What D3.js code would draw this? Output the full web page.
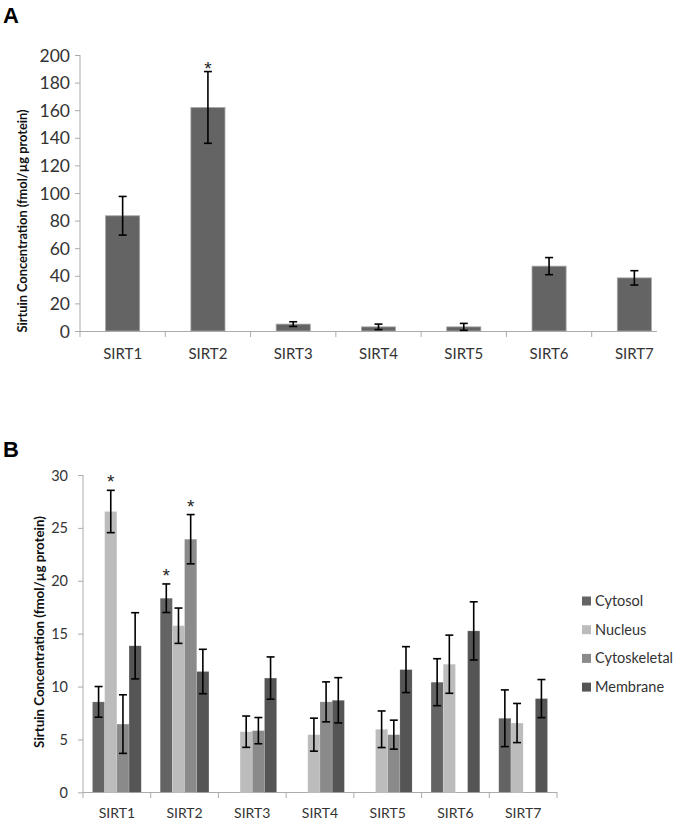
<!DOCTYPE html>
<html><head><meta charset="utf-8">
<script src="https://cdn.jsdelivr.net/npm/d3@7/dist/d3.min.js"></script>
<style>
body{margin:0;background:#fff;}
svg{display:block;font-family:Lato,"Open Sans",sans-serif;}
</style></head>
<body><svg id="c" width="675" height="820"></svg>
<script>
// ---- Data ----
const categories = ["SIRT1","SIRT2","SIRT3","SIRT4","SIRT5","SIRT6","SIRT7"];
// Panel A: total
const totalValues = [83.5, 162, 5, 3, 3, 47, 38.5];
const totalErrors = [14, 26, 1.7, 2, 2.5, 6.2, 5.2];
const totalStars = [false, true, false, false, false, false, false];
const ticksA = [0,20,40,60,80,100,120,140,160,180,200];
// Panel B: fractions
const series = ["Cytosol","Nucleus","Cytoskeletal","Membrane"];
const cytosolValues      = [8.55, 18.35, null, null, null, 10.41, 7.0];
const cytosolErrors      = [1.45, 1.35, null, null, null, 2.22, 2.68];
const nucleusValues      = [26.55, 15.75, 5.73, 5.45, 5.96, 12.11, 6.55];
const nucleusErrors      = [2.0, 1.67, 1.48, 1.56, 1.73, 2.75, 1.85];
const cytoskeletalValues = [6.45, 23.93, 5.83, 8.55, 5.45, null, null];
const cytoskeletalErrors = [2.77, 2.33, 1.24, 1.89, 1.37, null, null];
const membraneValues     = [13.85, 11.42, 10.8, 8.7, 11.6, 15.26, 8.86];
const membraneErrors     = [3.13, 2.1, 2.0, 2.14, 2.17, 2.75, 1.8];
// significance markers [series, category]
const starsB = [["Nucleus","SIRT1"],["Cytosol","SIRT2"],["Cytoskeletal","SIRT2"]];
const ticksB = [0,5,10,15,20,25,30];
const seriesColors = ["#646464","#bcbcbc","#8a8a8a","#555555"];

const svg = d3.select("#c");
const textCol = "#333333", axisCol = "#ababab";

// ================= Panel A =================
(function(){
  const x = d3.scaleBand().domain(categories).range([80, 677]).paddingInner(0.6).paddingOuter(0.3);
  const y = d3.scaleLinear().domain([0,200]).range([331,55]);
  const g = svg.append("g");
  g.append("text").attr("x",3).attr("y",23).text("A")
    .attr("font-family","Arial, 'Liberation Sans', sans-serif").attr("font-weight","bold").attr("font-size",22).attr("fill","#000");
  const ya = g.append("g").attr("transform","translate(80,0)")
    .call(d3.axisLeft(y).tickValues(ticksA).tickSize(5).tickPadding(5));
  ya.select(".domain").attr("stroke",axisCol).attr("d","M0,55V331");
  ya.selectAll(".tick line").attr("stroke",axisCol);
  ya.selectAll(".tick text").attr("fill",textCol).attr("font-size",17.5).attr("font-family","Lato,sans-serif").attr("dy","0.35em");
  const step = x.step();
  const x0 = 80;
  g.append("line").attr("x1",80).attr("x2",657).attr("y1",331.5).attr("y2",331.5).attr("stroke",axisCol);
  d3.range(categories.length).forEach(i=>{
    const tx = x0 + i*step;
    if (tx <= 657) g.append("line").attr("x1",tx).attr("x2",tx).attr("y1",331).attr("y2",337).attr("stroke",axisCol);
  });
  g.selectAll("text.cat").data(categories).join("text").attr("class","cat")
    .attr("x",d=>x(d)+x.bandwidth()/2).attr("y",359).attr("text-anchor","middle")
    .attr("font-size",15).attr("fill",textCol).text(d=>d);
  g.selectAll("rect.bar").data(categories).join("rect").attr("class","bar")
    .attr("x",d=>x(d)).attr("width",x.bandwidth())
    .attr("y",(d,i)=>y(totalValues[i])).attr("height",(d,i)=>y(0)-y(totalValues[i]))
    .attr("fill","#646464").attr("stroke","#a8a8a8").attr("stroke-width",0.8);
  categories.forEach((c,i)=>{
    const cx = x(c)+x.bandwidth()/2, hi=y(totalValues[i]+totalErrors[i]), lo=y(totalValues[i]-totalErrors[i]);
    const e = g.append("g").attr("stroke","#000").attr("stroke-width",1.6);
    e.append("line").attr("x1",cx).attr("x2",cx).attr("y1",hi).attr("y2",lo);
    e.append("line").attr("x1",cx-4).attr("x2",cx+4).attr("y1",hi).attr("y2",hi);
    e.append("line").attr("x1",cx-4).attr("x2",cx+4).attr("y1",lo).attr("y2",lo);
    if (totalStars[i]) g.append("text").attr("x",cx).attr("y",hi+3).attr("text-anchor","middle")
      .attr("font-size",19).attr("font-family","Arial,sans-serif").attr("fill","#222").text("*");
  });
  g.append("text").attr("transform","translate(27,221) rotate(-90)").attr("text-anchor","middle")
    .attr("font-size",12.8).attr("font-weight","bold").attr("fill","#111")
    .text("Sirtuin Concentration (fmol/µg protein)");
})();

// ================= Panel B =================
(function(){
  const vals = [cytosolValues, nucleusValues, cytoskeletalValues, membraneValues];
  const errs = [cytosolErrors, nucleusErrors, cytoskeletalErrors, membraneErrors];
  const x = d3.scaleBand().domain(categories).range([83, 557]).paddingInner(0.28).paddingOuter(0.14);
  const x1 = d3.scaleBand().domain(series).range([0, x.bandwidth()]);
  const y = d3.scaleLinear().domain([0,30]).range([792.3,475]);
  const color = d3.scaleOrdinal().domain(series).range(seriesColors);
  const g = svg.append("g");
  g.append("text").attr("x",3).attr("y",457).text("B")
    .attr("font-family","Arial, 'Liberation Sans', sans-serif").attr("font-weight","bold").attr("font-size",22).attr("fill","#000");
  const ya = g.append("g").attr("transform","translate(83,0)")
    .call(d3.axisLeft(y).tickValues(ticksB).tickSize(5).tickPadding(10));
  ya.select(".domain").attr("stroke",axisCol).attr("d","M0,475V792.3");
  ya.selectAll(".tick line").attr("stroke",axisCol);
  ya.selectAll(".tick text").attr("fill",textCol).attr("font-size",14.5).attr("font-family","Lato,sans-serif").attr("dy","0.35em");
  g.append("line").attr("x1",83).attr("x2",557).attr("y1",792.5).attr("y2",792.5).attr("stroke",axisCol);
  d3.range(categories.length+1).forEach(i=>{
    const tx = 83 + i*x.step();
    g.append("line").attr("x1",tx).attr("x2",tx).attr("y1",792).attr("y2",798).attr("stroke",axisCol);
  });
  g.selectAll("text.cat").data(categories).join("text").attr("class","cat")
    .attr("x",d=>x(d)+x.bandwidth()/2).attr("y",818).attr("text-anchor","middle")
    .attr("font-size",14).attr("fill",textCol).text(d=>d);
  series.forEach((s,si)=>{
    categories.forEach((c,ci)=>{
      const v = vals[si][ci]; if (v==null) return;
      const bx = x(c)+x1(s), w = x1.bandwidth();
      g.append("rect").attr("x",bx).attr("width",w).attr("y",y(v)).attr("height",y(0)-y(v))
        .attr("fill",color(s)).attr("stroke","#ffffff").attr("stroke-opacity",0.25).attr("stroke-width",0.6);
    });
  });
  series.forEach((s,si)=>{
    categories.forEach((c,ci)=>{
      const v = vals[si][ci]; if (v==null) return;
      const er = errs[si][ci];
      const cx = x(c)+x1(s)+x1.bandwidth()/2, hi=y(v+er), lo=y(v-er);
      const e = g.append("g").attr("stroke","#000").attr("stroke-width",1.6);
      e.append("line").attr("x1",cx).attr("x2",cx).attr("y1",hi).attr("y2",lo);
      e.append("line").attr("x1",cx-4).attr("x2",cx+4).attr("y1",hi).attr("y2",hi);
      e.append("line").attr("x1",cx-4).attr("x2",cx+4).attr("y1",lo).attr("y2",lo);
      if (starsB.some(p=>p[0]===s && p[1]===c))
        g.append("text").attr("x",cx).attr("y",hi-2).attr("text-anchor","middle")
          .attr("font-size",19).attr("font-family","Arial,sans-serif").attr("fill","#222").text("*");
    });
  });
  g.append("text").attr("transform","translate(44,632) rotate(-90)").attr("text-anchor","middle")
    .attr("font-size",13.3).attr("font-weight","bold").attr("fill","#111")
    .text("Sirtuin Concentration (fmol/µg protein)");
  const lg = g.append("g");
  series.forEach((s,i)=>{
    const cy = 601 + i*28.7;
    lg.append("rect").attr("x",582).attr("y",cy-4.5).attr("width",9).attr("height",9).attr("fill",color(s));
    lg.append("text").attr("x",595).attr("y",cy).attr("dy","0.35em").attr("font-size",14.5).attr("fill",textCol).text(s);
  });
})();
</script></body></html>
